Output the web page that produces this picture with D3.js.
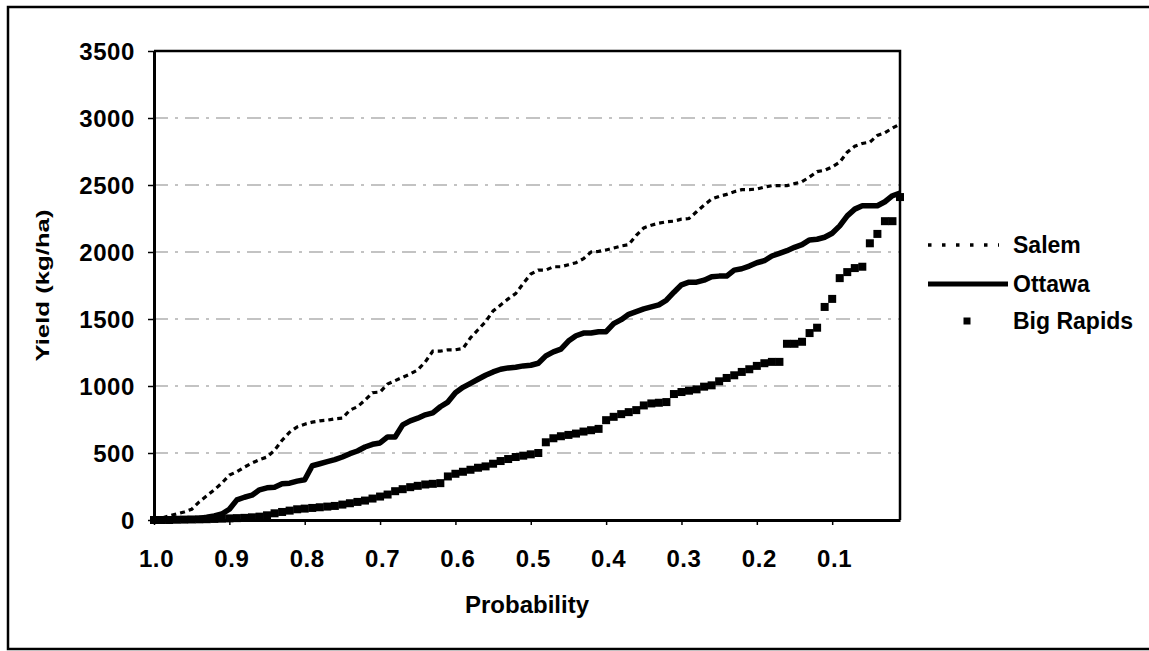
<!DOCTYPE html>
<html lang="en">
<head>
<meta charset="UTF-8">
<title>Yield vs Probability</title>
<script src="https://cdn.jsdelivr.net/npm/d3@7"></script>
<style>
  body { margin: 0; background: #fff; }
  svg { display: block; font-family: "Liberation Sans", Arial, sans-serif; }
  .axis text { font-size: 24px; font-weight: bold; fill: #000; letter-spacing: 0.6px; }
  .axis path, .axis line { stroke: #000; }
  .legend text { font-size: 23px; font-weight: bold; }
</style>
</head>
<body>
<div id="chart"></div>
<script>
// probability (exceedance), plotted from 1.00 down to 0.01
const probability = [
  1.00, 0.99, 0.98, 0.97, 0.96, 0.95, 0.94, 0.93, 0.92, 0.91,
  0.90, 0.89, 0.88, 0.87, 0.86, 0.85, 0.84, 0.83, 0.82, 0.81,
  0.80, 0.79, 0.78, 0.77, 0.76, 0.75, 0.74, 0.73, 0.72, 0.71,
  0.70, 0.69, 0.68, 0.67, 0.66, 0.65, 0.64, 0.63, 0.62, 0.61,
  0.60, 0.59, 0.58, 0.57, 0.56, 0.55, 0.54, 0.53, 0.52, 0.51,
  0.50, 0.49, 0.48, 0.47, 0.46, 0.45, 0.44, 0.43, 0.42, 0.41,
  0.40, 0.39, 0.38, 0.37, 0.36, 0.35, 0.34, 0.33, 0.32, 0.31,
  0.30, 0.29, 0.28, 0.27, 0.26, 0.25, 0.24, 0.23, 0.22, 0.21,
  0.20, 0.19, 0.18, 0.17, 0.16, 0.15, 0.14, 0.13, 0.12, 0.11,
  0.10, 0.09, 0.08, 0.07, 0.06, 0.05, 0.04, 0.03, 0.02, 0.01
];

const salem = [
  0, 15, 30, 45, 60, 80, 135, 180, 225, 275,
  335, 360, 395, 425, 450, 470, 520, 595, 655, 695,
  715, 730, 740, 745, 755, 760, 820, 845, 895, 950,
  955, 1015, 1040, 1065, 1090, 1120, 1180, 1260, 1260, 1270,
  1270, 1280, 1360, 1420, 1480, 1560, 1605, 1650, 1690, 1765,
  1835, 1865, 1865, 1890, 1890, 1905, 1920, 1950, 2000, 2005,
  2015, 2030, 2045, 2055, 2125, 2180, 2200, 2215, 2225, 2230,
  2245, 2250, 2300, 2350, 2395, 2415, 2430, 2450, 2465, 2465,
  2470, 2485, 2495, 2495, 2495, 2510, 2525, 2560, 2600, 2610,
  2635, 2670, 2745, 2790, 2810, 2820, 2870, 2890, 2925, 2955
];

const ottawa = [
  0, 2, 3, 4, 6, 8, 12, 20, 30, 45,
  80, 150, 170, 185, 225, 240, 245, 270, 275, 290,
  300, 405, 420, 435, 450, 470, 495, 515, 545, 565,
  575, 620, 620, 710, 740, 760, 785, 800, 845, 880,
  950, 990, 1020, 1050, 1080, 1105, 1125, 1135, 1140, 1150,
  1155, 1170, 1225, 1255, 1275, 1335, 1375, 1395, 1395, 1405,
  1405, 1465, 1495, 1535, 1555, 1575, 1590, 1605, 1640, 1700,
  1755, 1775, 1775, 1790, 1815, 1820, 1820, 1865, 1875, 1895,
  1920, 1935, 1970, 1990, 2010, 2035, 2055, 2090, 2095, 2110,
  2140, 2195, 2270, 2320, 2345, 2345, 2345, 2375, 2420, 2440
];

const bigRapids = [
  0, 0, 0, 2, 3, 4, 5, 6, 8, 10,
  12, 14, 16, 20, 25, 35, 50, 60, 70, 80,
  85, 90, 95, 100, 105, 115, 125, 135, 145, 160,
  175, 190, 215, 230, 245, 255, 265, 270, 275, 325,
  345, 360, 375, 390, 400, 420, 440, 455, 470, 480,
  490, 500, 580, 610, 625, 635, 645, 660, 670, 680,
  745, 770, 790, 805, 820, 855, 870, 875, 880, 940,
  955, 965, 975, 995, 1005, 1035, 1060, 1080, 1105, 1125,
  1150, 1170, 1180, 1180, 1315, 1315, 1330, 1395, 1435, 1590,
  1650, 1805, 1850, 1880, 1890, 2065, 2135, 2230, 2230, 2410
];

const xTicks = [1.0, 0.9, 0.8, 0.7, 0.6, 0.5, 0.4, 0.3, 0.2, 0.1];
const yTicks = [0, 500, 1000, 1500, 2000, 2500, 3000, 3500];
const seriesNames = ["Salem", "Ottawa", "Big Rapids"];

const width = 1149, height = 651;
const plot = { left: 154, top: 51, right: 900, bottom: 520 };

const svg = d3.select("#chart").append("svg")
  .attr("width", width)
  .attr("height", height);

// outer frame (right side runs off the picture)
svg.append("rect")
  .attr("x", 8).attr("y", 7)
  .attr("width", 1160).attr("height", 642)
  .attr("fill", "none").attr("stroke", "#000").attr("stroke-width", 2.5);

const x = d3.scaleLinear().domain([1.0, 0.01]).range([plot.left, plot.right]);
const y = d3.scaleLinear().domain([0, 3500]).range([plot.bottom, plot.top]);

// gridlines
svg.append("g")
  .selectAll("line")
  .data(yTicks.filter(d => d > 0 && d < 3500))
  .join("line")
  .attr("x1", plot.left).attr("x2", plot.right)
  .attr("y1", d => y(d)).attr("y2", d => y(d))
  .attr("stroke", "#888")
  .attr("stroke-width", 1.2)
  .attr("stroke-dasharray", "14,7,3,7");

// plot area border (top and right)
svg.append("path")
  .attr("d", `M${plot.left},${plot.top}H${plot.right}V${plot.bottom}`)
  .attr("fill", "none").attr("stroke", "#000").attr("stroke-width", 2.5);

// y axis
const yAxis = svg.append("g")
  .attr("class", "axis")
  .attr("transform", `translate(${plot.left},0)`)
  .call(d3.axisLeft(y).tickValues(yTicks).tickFormat(d3.format("d"))
    .tickSize(6).tickSizeOuter(0).tickPadding(13));
yAxis.select(".domain").attr("stroke-width", 3);
yAxis.selectAll(".tick line").attr("stroke-width", 1.5);
yAxis.selectAll(".tick text").attr("dy", "0.36em");

// x axis
const xAxis = svg.append("g")
  .attr("class", "axis")
  .attr("transform", `translate(0,${plot.bottom})`)
  .call(d3.axisBottom(x).tickValues(xTicks).tickFormat(d3.format(".1f")).tickSize(5).tickSizeOuter(0));
xAxis.select(".domain").attr("stroke-width", 3);
xAxis.selectAll(".tick line").attr("stroke-width", 1.5);
xAxis.selectAll(".tick text").attr("y", 47).attr("dy", 0).attr("x", 2);

// axis titles
svg.append("text")
  .attr("x", (plot.left + plot.right) / 2)
  .attr("y", 613)
  .attr("text-anchor", "middle")
  .attr("font-size", 24).attr("font-weight", "bold")
  .text("Probability");

svg.append("text")
  .attr("transform", `translate(49,${(plot.top + plot.bottom) / 2}) rotate(-90)`)
  .attr("text-anchor", "middle")
  .attr("font-size", 18).attr("font-weight", "bold")
  .attr("textLength", 152)
  .attr("lengthAdjust", "spacingAndGlyphs")
  .text("Yield (kg/ha)");

const line = d3.line()
  .x((d, i) => x(probability[i]))
  .y(d => y(d));

// Big Rapids: square markers only
svg.append("g")
  .selectAll("rect")
  .data(bigRapids)
  .join("rect")
  .attr("x", (d, i) => x(probability[i]) - 4)
  .attr("y", d => y(d) - 4)
  .attr("width", 8).attr("height", 8)
  .attr("fill", "#000");

// Ottawa: thick solid line
svg.append("path")
  .datum(ottawa)
  .attr("d", line)
  .attr("fill", "none")
  .attr("stroke", "#000")
  .attr("stroke-width", 5.5)
  .attr("stroke-linejoin", "round");

// Salem: dotted line
svg.append("path")
  .datum(salem)
  .attr("d", line)
  .attr("fill", "none")
  .attr("stroke", "#000")
  .attr("stroke-width", 3.2)
  .attr("stroke-dasharray", "5,4");

// legend
const legend = svg.append("g").attr("class", "legend");
const legendY = [245, 284, 321];

legend.append("line")
  .attr("x1", 928).attr("x2", 999)
  .attr("y1", legendY[0]).attr("y2", legendY[0])
  .attr("stroke", "#000").attr("stroke-width", 3.5)
  .attr("stroke-dasharray", "3.5,10.5");

legend.append("line")
  .attr("x1", 928).attr("x2", 1008)
  .attr("y1", legendY[1]).attr("y2", legendY[1])
  .attr("stroke", "#000").attr("stroke-width", 5);

legend.append("rect")
  .attr("x", 967 - 3.5).attr("y", legendY[2] - 3.5)
  .attr("width", 7).attr("height", 7)
  .attr("fill", "#000");

legend.selectAll("text")
  .data(seriesNames)
  .join("text")
  .attr("x", 1013)
  .attr("y", (d, i) => legendY[i] + 8)
  .text(d => d);
</script>
</body>
</html>
